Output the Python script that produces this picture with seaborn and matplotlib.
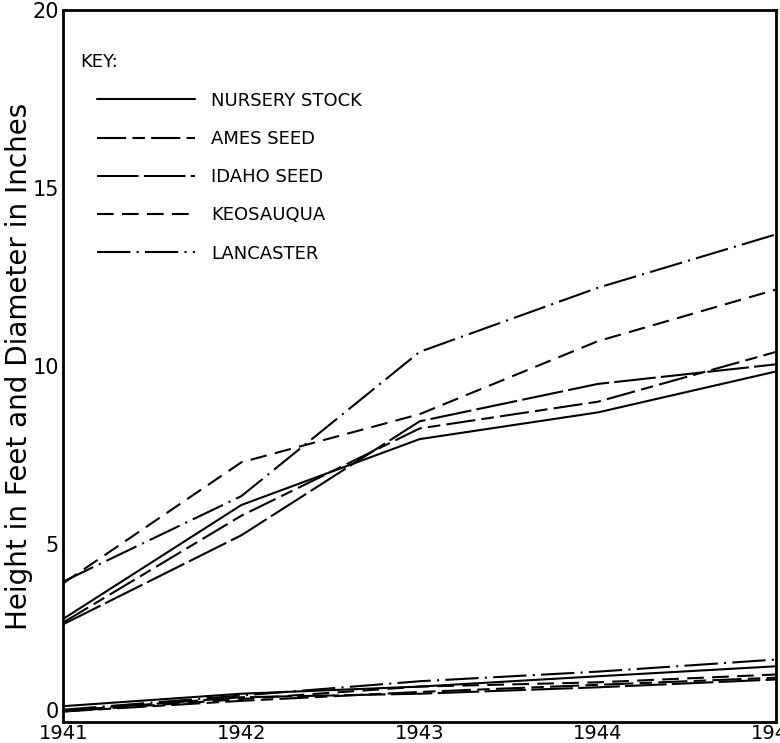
import matplotlib
matplotlib.use("Agg")
import matplotlib.pyplot as plt
import seaborn as sns
import pandas as pd

years = [1941, 1942, 1943, 1944, 1945]
series_names = ["NURSERY STOCK", "AMES SEED", "IDAHO SEED", "KEOSAUQUA", "LANCASTER"]

# Height in feet
height_nursery = [2.9, 6.1, 7.95, 8.7, 9.85]
height_ames = [2.8, 5.8, 8.25, 9.0, 10.4]
height_idaho = [2.75, 5.25, 8.45, 9.5, 10.05]
height_keosauqua = [3.9, 7.3, 8.65, 10.7, 12.15]
height_lancaster = [3.95, 6.35, 10.4, 12.2, 13.7]

# Diameter in inches
diam_nursery = [0.45, 0.8, 1.0, 1.29, 1.57]
diam_ames = [0.3, 0.6, 0.85, 1.05, 1.25]
diam_idaho = [0.32, 0.7, 0.8, 0.98, 1.2]
diam_keosauqua = [0.3, 0.65, 1.0, 1.12, 1.34]
diam_lancaster = [0.35, 0.75, 1.15, 1.42, 1.76]

heights = [height_nursery, height_ames, height_idaho, height_keosauqua, height_lancaster]
diams = [diam_nursery, diam_ames, diam_idaho, diam_keosauqua, diam_lancaster]

rows = []
for name, h, d in zip(series_names, heights, diams):
    for yr, v in zip(years, h):
        rows.append({"year": yr, "value": v, "series": name, "measure": "height"})
    for yr, v in zip(years, d):
        rows.append({"year": yr, "value": v, "series": name, "measure": "diameter"})
df = pd.DataFrame(rows)

sns.set_theme(style="white")
plt.rcParams["font.family"] = ["DejaVu Sans"]
plt.rcParams["text.color"] = "black"

fig = plt.figure(figsize=(7.8, 7.43), dpi=100)
ax = fig.add_axes([0.081, 0.028, 0.914, 0.9585])

dashes = {
    "NURSERY STOCK": "",
    "AMES SEED": (14, 3, 6, 3),
    "IDAHO SEED": (20, 2.5),
    "KEOSAUQUA": (8, 4),
    "LANCASTER": (16, 3, 1, 3),
}
palette = {n: "black" for n in series_names}

sns.lineplot(data=df, x="year", y="value", hue="series", style="series",
             units="measure", estimator=None, hue_order=series_names,
             style_order=series_names, dashes=dashes, palette=palette,
             linewidth=1.5, ax=ax, legend=True)

ax.set_xlim(1941, 1945)
ax.set_ylim(0, 20)
ax.set_xticks(years)
ax.set_xticklabels([str(y) for y in years], fontsize=14)
ax.set_yticks([0, 5, 10, 15, 20])
ax.set_yticklabels(["0", "5", "10", "15", "20"], fontsize=15)
ax.tick_params(axis="both", direction="in", length=7, width=1.5, color="black",
               pad=3, labelcolor="black")
ax.tick_params(axis="x", pad=1)
ax.get_yticklabels()[0].set_va("bottom")
ax.set_xlabel("")
ax.set_ylabel("Height in Feet and Diameter in Inches", fontsize=20, labelpad=0,
              color="black")
for s in ax.spines.values():
    s.set_color("black")
    s.set_linewidth(2)

handles, labels = ax.get_legend_handles_labels()
leg = ax.legend(handles, labels, loc="upper left",
                bbox_to_anchor=(0.03, 0.903), frameon=False, fontsize=13,
                handlelength=5.4, labelspacing=1.12,
                handletextpad=0.9, borderaxespad=0.3)
for line in leg.get_lines():
    line.set_linewidth(1.5)
for t in leg.get_texts():
    t.set_color("black")

ax.text(0.024, 0.927, "KEY:", transform=ax.transAxes, fontsize=13,
        ha="left", va="center", color="black")

fig.savefig("out.png", dpi=100, facecolor="white")
